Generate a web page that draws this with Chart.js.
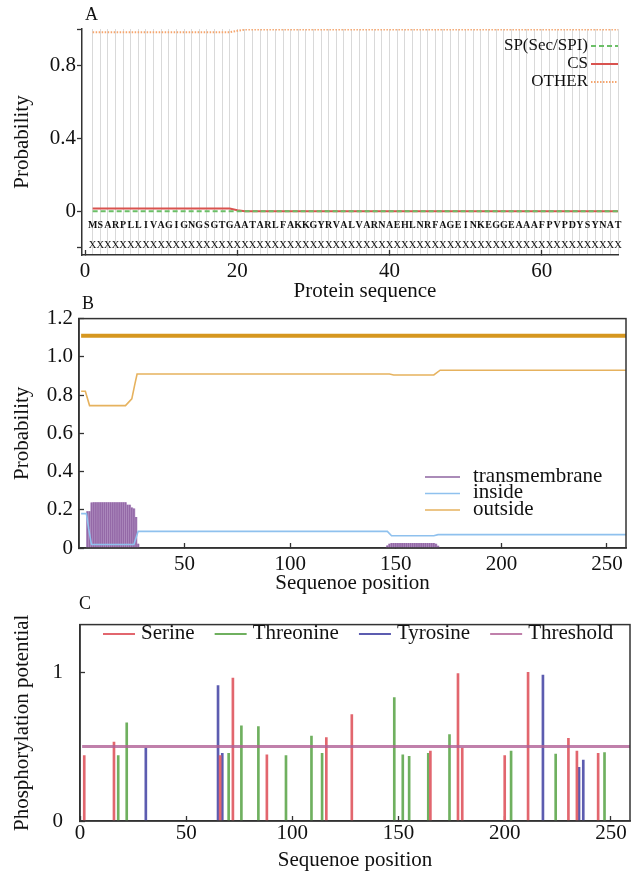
<!DOCTYPE html>
<html>
<head>
<meta charset="utf-8">
<script src="https://cdn.jsdelivr.net/npm/chart.js@4.4.1/dist/chart.umd.min.js"></script>
<style>
  body { margin: 0; background: #fff; width: 637px; height: 874px; position: relative; overflow: hidden; font-family: "Liberation Serif", serif; }
  .panel { position: absolute; left: 0; width: 637px; }
  .tag { position: absolute; font-size: 18px; line-height: 18px; color: #111; }
</style>
</head>
<body>
<div class="panel" style="top:0;height:305px"><canvas id="chartA"></canvas></div>
<div class="panel" style="top:295px;height:300px"><canvas id="chartB"></canvas></div>
<div class="panel" style="top:590px;height:284px"><canvas id="chartC"></canvas></div>
<div class="tag" style="left:85px;top:5px">A</div>
<div class="tag" style="left:82px;top:294px">B</div>
<div class="tag" style="left:79px;top:594px">C</div>
<script>
// ---- A: signal peptide prediction ----
const spPos = [1, 19, 20, 21, 70];
const spProb = [0, 0, 0, 0, 0];
const csProb = [0.015, 0.015, 0.005, 0, 0];
const otherProb = [0.982, 0.982, 0.99, 0.997, 0.997];
const residues = 'MSARPLLIVAGIGNGSGTGAATARLFAKKGYRVALVARNAEHLNRFAGEINKEGGEAAAFPVPDYSYNAT'.split('');
const spClass = 'XXXXXXXXXXXXXXXXXXXXXXXXXXXXXXXXXXXXXXXXXXXXXXXXXXXXXXXXXXXXXXXXXXXXXX'.split('');

// ---- B: transmembrane prediction ----
const outsidePos = [1, 3, 5, 22, 25, 26.5, 27.5, 147, 149, 168, 171, 259];
const outsideProb = [0.82, 0.82, 0.745, 0.745, 0.78, 0.86, 0.91, 0.91, 0.905, 0.905, 0.93, 0.93];
const insidePos = [1, 3.5, 4.6, 5.9, 26, 28, 146, 148, 168, 170, 259];
const insideProb = [0.18, 0.18, 0.1, 0.018, 0.018, 0.087, 0.087, 0.064, 0.064, 0.07, 0.07];
const tmPos = [4, 5, 6, 7, 8, 9, 10, 11, 12, 13, 14, 15, 16, 17, 18, 19, 20, 21, 22, 23, 24, 25, 26, 27, 28,
  146, 147, 148, 149, 150, 151, 152, 153, 154, 155, 156, 157, 158, 159, 160, 161, 162, 163, 164, 165, 166, 167, 168, 169, 170];
const tmProb = [0.19, 0.19, 0.236, 0.237, 0.237, 0.237, 0.237, 0.237, 0.237, 0.237, 0.237, 0.237, 0.237, 0.237, 0.237, 0.237, 0.237, 0.237, 0.237, 0.225, 0.225, 0.21, 0.205, 0.16, 0.02,
  0.012, 0.02, 0.025, 0.025, 0.025, 0.025, 0.025, 0.025, 0.025, 0.025, 0.025, 0.025, 0.025, 0.025, 0.025, 0.025, 0.025, 0.025, 0.025, 0.025, 0.025, 0.025, 0.025, 0.02, 0.01];
const topologyPos = [1, 259];
const topologyLevel = [1.11, 1.11];

// ---- C: phosphorylation sites ----
const serinePos = [2, 16, 66, 72, 88, 116, 128, 165, 178, 180, 200, 211, 230, 234, 244];
const serineVal = [0.44, 0.53, 0.44, 0.96, 0.445, 0.56, 0.715, 0.47, 0.99, 0.49, 0.44, 1.0, 0.555, 0.47, 0.455];
const threoninePos = [18, 22, 70, 76, 84, 97, 109, 114, 148, 152, 155, 164, 174, 203, 224, 247];
const threonineVal = [0.44, 0.66, 0.455, 0.64, 0.635, 0.44, 0.57, 0.455, 0.83, 0.445, 0.435, 0.455, 0.58, 0.47, 0.45, 0.46];
const tyrosinePos = [31, 65, 67, 218, 235, 237];
const tyrosineVal = [0.49, 0.91, 0.455, 0.98, 0.36, 0.41];
const thresholdPos = [1, 259];
const thresholdVal = [0.5, 0.5];

const FONT = 'Liberation Serif';
const AXIS = '#333333';
const TEXT = '#111111';
const bigFont = { family: FONT, size: 21 };

function pts(xs, ys) { return xs.map((x, i) => ({ x: x, y: ys[i] })); }
function fixWidth(w) { return s => { s.width = w; }; }
function fixHeight(h) { return s => { s.height = h; }; }
function setTicks(vals) { return s => { s.ticks = vals.map(v => ({ value: v })); }; }

function sample(ctx, x1, x2, y, color, width, dash) {
    ctx.save();
    ctx.strokeStyle = color;
    ctx.lineWidth = width;
    ctx.setLineDash(dash || []);
    ctx.beginPath();
    ctx.moveTo(x1, y);
    ctx.lineTo(x2, y);
    ctx.stroke();
    ctx.restore();
}

const boxBorder = {
    id: 'boxBorder',
    afterDraw(chart) {
        const { ctx, chartArea: a } = chart;
        ctx.save();
        ctx.strokeStyle = AXIS;
        ctx.lineWidth = 1.5;
        ctx.strokeRect(a.left, a.top, a.right - a.left, a.bottom - a.top);
        ctx.restore();
    }
};

function baseOptions(pad) {
    return {
        responsive: true,
        maintainAspectRatio: false,
        animation: false,
        events: [],
        layout: { padding: pad },
        plugins: { legend: { display: false }, tooltip: { enabled: false } },
        elements: { point: { radius: 0 }, line: { tension: 0 } }
    };
}

// ---------- panel A ----------
const seqTicks = Array.from({ length: 71 }, (_, i) => i);

const sequenceRows = {
    id: 'sequenceRows',
    afterDatasetsDraw(chart) {
        const { ctx, scales: { x, y } } = chart;
        ctx.save();
        ctx.fillStyle = TEXT;
        ctx.textAlign = 'center';
        ctx.textBaseline = 'middle';
        ctx.font = 'bold 10px "Liberation Serif"';
        residues.forEach((r, i) => ctx.fillText(r, x.getPixelForValue(i + 1), y.getPixelForValue(-0.075)));
        ctx.font = '10.5px "Liberation Serif"';
        spClass.forEach((c, i) => ctx.fillText(c, x.getPixelForValue(i + 1), y.getPixelForValue(-0.188)));
        // x title, sits a little right of the plot centre in the original
        ctx.font = '21px "Liberation Serif"';
        ctx.fillText('Protein sequence', 365, 291);
        ctx.restore();
    }
};

const legendA = {
    id: 'legendA',
    afterDraw(chart) {
        const ctx = chart.ctx;
        ctx.save();
        ctx.font = '17px "Liberation Serif"';
        ctx.fillStyle = TEXT;
        ctx.textAlign = 'right';
        ctx.textBaseline = 'middle';
        chart.data.datasets.forEach((ds, i) => {
            const y = 46 + i * 18;
            ctx.fillText(ds.label, 588, y);
            sample(ctx, 591, 618, y, ds.borderColor, ds.borderWidth, ds.borderDash);
        });
        ctx.restore();
    }
};

const optsA = baseOptions({ top: 29, left: 0, right: 19, bottom: 0 });
optsA.scales = {
    x: {
        type: 'linear', min: -0.4, max: 70, offset: false,
        afterBuildTicks: setTicks(seqTicks),
        afterFit: fixHeight(50),
        ticks: { autoSkip: false, maxRotation: 0, minRotation: 0, padding: 9, font: bigFont, color: TEXT,
            callback: v => (v % 20 === 0 ? String(v) : '') },
        grid: {
            offset: false, drawOnChartArea: true, lineWidth: 1, tickLength: -5, tickWidth: 1.3,
            color: c => (c.tick && c.tick.value > 0 ? '#d9d9d9' : 'transparent'),
            tickColor: c => (c.tick && c.tick.value % 20 === 0 ? AXIS : 'transparent')
        },
        border: { color: AXIS, width: 1.5 }
    },
    y: {
        min: -0.24, max: 1,
        afterBuildTicks: setTicks([-0.2, 0, 0.4, 0.8, 1]),
        afterFit: fixWidth(82),
        ticks: { padding: 1, font: bigFont, color: TEXT,
            callback: v => (v === 0 ? '0' : (v === 0.4 || v === 0.8 ? v.toFixed(1) : '')) },
        grid: { drawOnChartArea: false, tickLength: 5, tickColor: AXIS, tickWidth: 1.3 },
        border: { color: AXIS, width: 1.5 },
        title: { display: true, text: 'Probability', font: bigFont, color: TEXT, padding: { top: 10, bottom: 0 } }
    }
};

new Chart(document.getElementById('chartA'), {
    type: 'line',
    data: {
        datasets: [
            { label: 'SP(Sec/SPI)', data: pts(spPos, spProb), borderColor: '#6bbf67', borderWidth: 2, borderDash: [5, 3] },
            { label: 'CS', data: pts(spPos, csProb), borderColor: '#d9534f', borderWidth: 2 },
            { label: 'OTHER', data: pts(spPos, otherProb), borderColor: '#f5a66f', borderWidth: 2, borderDash: [1.5, 1.5] }
        ]
    },
    options: optsA,
    plugins: [sequenceRows, legendA]
});

// ---------- panel B ----------
const legendItemsB = [
    { text: 'transmembrane', color: '#8e64a0' },
    { text: 'inside', color: '#8fc1ee' },
    { text: 'outside', color: '#e6b25e' }
];
const legendB = {
    id: 'legendB',
    afterDraw(chart) {
        const ctx = chart.ctx;
        ctx.save();
        ctx.font = '21px "Liberation Serif"';
        ctx.fillStyle = TEXT;
        ctx.textAlign = 'left';
        ctx.textBaseline = 'middle';
        legendItemsB.forEach((it, i) => {
            const y = 181 + i * 16.5;
            sample(ctx, 425, 460, y + 1, it.color, 1.5);
            ctx.fillText(it.text, 473, y);
        });
        ctx.restore();
    }
};

const optsB = baseOptions({ top: 23, left: 0, right: 11, bottom: 0 });
optsB.scales = {
    x: {
        type: 'linear', min: 0, max: 259, offset: false,
        afterBuildTicks: setTicks([50, 100, 150, 200, 250]),
        afterFit: fixHeight(47),
        ticks: { autoSkip: false, maxRotation: 0, padding: 9, font: bigFont, color: TEXT },
        grid: { offset: false, drawOnChartArea: false, tickLength: -5, tickColor: AXIS, tickWidth: 1.3 },
        border: { color: AXIS, width: 1.5 },
        title: { display: true, text: 'Sequenoe position', font: bigFont, color: TEXT, padding: { top: 0, bottom: -1 } }
    },
    y: {
        min: 0, max: 1.2,
        afterBuildTicks: setTicks([0, 0.2, 0.4, 0.6, 0.8, 1.0, 1.2]),
        afterFit: fixWidth(79),
        ticks: { padding: 11, font: bigFont, color: TEXT, callback: v => (v === 0 ? '0' : v.toFixed(1)) },
        grid: { drawOnChartArea: false, tickLength: -5, tickColor: AXIS, tickWidth: 1.3 },
        border: { color: AXIS, width: 1.5 },
        title: { display: true, text: 'Probability', font: bigFont, color: TEXT, padding: { top: 10, bottom: 0 } }
    }
};

new Chart(document.getElementById('chartB'), {
    type: 'line',
    data: {
        datasets: [
            { label: 'inside', data: pts(insidePos, insideProb), borderColor: '#8fc1ee', borderWidth: 1.6 },
            { label: 'outside', data: pts(outsidePos, outsideProb), borderColor: '#e6b25e', borderWidth: 1.6 },
            { type: 'bar', label: 'transmembrane', data: pts(tmPos, tmProb), backgroundColor: 'rgba(128,78,150,0.7)', barThickness: 1, grouped: false },
            { type: 'bar', label: 'transmembrane area', data: pts(tmPos, tmProb), backgroundColor: '#c2a7d1', barPercentage: 1, categoryPercentage: 1, grouped: false },
            { label: 'topology', data: pts(topologyPos, topologyLevel), borderColor: '#d6971f', borderWidth: 4 }
        ]
    },
    options: optsB,
    plugins: [boxBorder, legendB]
});

// ---------- panel C ----------
const legendC = {
    id: 'legendC',
    afterDraw(chart) {
        const ctx = chart.ctx;
        const items = [chart.data.datasets[1], chart.data.datasets[2], chart.data.datasets[3], chart.data.datasets[0]];
        ctx.save();
        ctx.font = '21px "Liberation Serif"';
        ctx.fillStyle = TEXT;
        ctx.textAlign = 'left';
        ctx.textBaseline = 'middle';
        let x = 103;
        const y = 43;
        items.forEach(ds => {
            const col = ds.type === 'bar' ? ds.backgroundColor : ds.borderColor;
            sample(ctx, x, x + 32, y + 1, col, 2);
            ctx.fillText(ds.label, x + 38, y);
            x += 38 + ctx.measureText(ds.label).width + 20;
        });
        ctx.restore();
    }
};

const optsC = baseOptions({ top: 23, left: 0, right: 7, bottom: 0 });
optsC.scales = {
    x: {
        type: 'linear', min: 0, max: 259, offset: false,
        afterBuildTicks: setTicks([0, 50, 100, 150, 200, 250]),
        afterFit: fixHeight(53),
        ticks: { autoSkip: false, maxRotation: 0, padding: 5, font: bigFont, color: TEXT },
        grid: { offset: false, drawOnChartArea: false, tickLength: -5, tickColor: AXIS, tickWidth: 1.3 },
        border: { color: AXIS, width: 1.5 },
        title: { display: true, text: 'Sequenoe position', font: bigFont, color: TEXT, padding: { top: 0, bottom: 1 } }
    },
    y: {
        min: 0, max: 1.32,
        afterBuildTicks: setTicks([0, 1]),
        afterFit: fixWidth(80),
        ticks: { padding: 22, font: bigFont, color: TEXT },
        grid: { drawOnChartArea: false, tickLength: -5, tickColor: AXIS, tickWidth: 1.3 },
        border: { color: AXIS, width: 1.5 },
        title: { display: true, text: 'Phosphorylation potential', font: bigFont, color: TEXT, padding: { top: 10, bottom: 0 } }
    }
};

new Chart(document.getElementById('chartC'), {
    type: 'line',
    data: {
        datasets: [
            { label: 'Threshold', data: pts(thresholdPos, thresholdVal), borderColor: 'rgba(176,96,150,0.8)', borderWidth: 3 },
            { type: 'bar', label: 'Serine', data: pts(serinePos, serineVal), backgroundColor: '#e2666e', barThickness: 2, grouped: false },
            { type: 'bar', label: 'Threonine', data: pts(threoninePos, threonineVal), backgroundColor: '#6fb05f', barThickness: 2, grouped: false },
            { type: 'bar', label: 'Tyrosine', data: pts(tyrosinePos, tyrosineVal), backgroundColor: '#5c5cb0', barThickness: 2, grouped: false }
        ]
    },
    options: optsC,
    plugins: [boxBorder, legendC]
});
</script>
</body>
</html>
